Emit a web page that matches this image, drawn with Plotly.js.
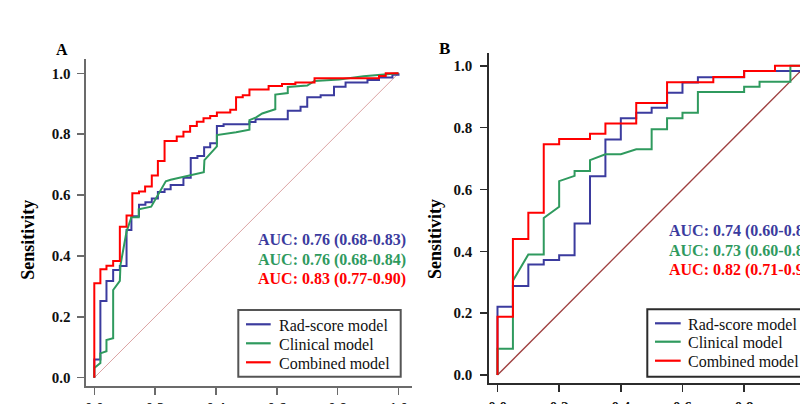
<!DOCTYPE html>
<html>
<head>
<meta charset="utf-8">
<script src="https://cdn.plot.ly/plotly-3.0.1.min.js"></script>
<style>html,body{margin:0;padding:0;background:#fff;}#chart{width:800px;height:404px;}</style>
</head>
<body>
<div id="chart"></div>
<script>
// ---------- data ----------
const diagX = [0, 1];
const diagY = [0, 1];

// Panel A (training)
const aRadX = [0,0,0.02,0.02,0.04,0.04,0.062,0.062,0.084,0.084,0.106,0.106,0.122,0.122,0.147,0.147,0.168,0.168,0.189,0.189,0.209,0.209,0.231,0.231,0.251,0.251,0.293,0.293,0.317,0.317,0.339,0.339,0.361,0.361,0.381,0.381,0.403,0.403,0.425,0.425,0.51,0.51,0.53,0.53,0.636,0.636,0.678,0.678,0.70,0.70,0.744,0.744,0.788,0.788,0.826,0.826,0.898,0.898,0.936,0.936,0.98,0.98,1,1];
const aRadY = [0,0.06,0.06,0.252,0.252,0.318,0.318,0.354,0.354,0.367,0.367,0.485,0.485,0.53,0.53,0.568,0.568,0.576,0.576,0.589,0.589,0.61,0.61,0.619,0.619,0.633,0.633,0.657,0.657,0.722,0.722,0.728,0.728,0.757,0.757,0.77,0.77,0.827,0.827,0.833,0.833,0.84,0.84,0.849,0.849,0.877,0.877,0.89,0.89,0.921,0.921,0.928,0.928,0.956,0.956,0.97,0.97,0.978,0.978,0.986,0.986,0.995,0.995,1];

const aCliX = [0,0,0.02,0.02,0.04,0.04,0.062,0.062,0.084,0.086,0.106,0.122,0.146,0.146,0.187,0.235,0.251,0.36,0.362,0.403,0.403,0.466,0.51,0.51,0.532,0.552,0.595,0.595,0.636,0.636,0.70,0.724,0.805,0.885,1];
const aCliY = [0,0.032,0.048,0.08,0.087,0.124,0.13,0.288,0.318,0.37,0.48,0.527,0.527,0.553,0.562,0.645,0.65,0.675,0.715,0.76,0.797,0.806,0.815,0.846,0.855,0.868,0.882,0.93,0.935,0.955,0.96,0.975,0.98,0.99,1];

const aComX = [0,0,0.02,0.02,0.04,0.04,0.062,0.062,0.084,0.084,0.106,0.106,0.125,0.125,0.147,0.147,0.167,0.167,0.189,0.189,0.209,0.209,0.231,0.231,0.271,0.271,0.293,0.293,0.315,0.315,0.337,0.337,0.359,0.359,0.381,0.381,0.403,0.403,0.447,0.447,0.466,0.466,0.488,0.488,0.51,0.51,0.573,0.573,0.617,0.617,0.661,0.661,0.724,0.724,0.936,0.936,0.958,0.958,1];
const aComY = [0,0.31,0.31,0.356,0.356,0.368,0.368,0.383,0.383,0.496,0.496,0.533,0.533,0.606,0.606,0.612,0.612,0.628,0.628,0.664,0.664,0.712,0.712,0.778,0.778,0.792,0.792,0.808,0.808,0.827,0.827,0.841,0.841,0.852,0.852,0.86,0.86,0.871,0.871,0.88,0.88,0.921,0.921,0.928,0.928,0.947,0.947,0.958,0.958,0.965,0.965,0.97,0.97,0.984,0.984,0.991,0.991,1,1];

// Panel B (validation)
const bRadX = [0,0,0.05,0.05,0.1,0.1,0.15,0.15,0.2,0.2,0.25,0.25,0.3,0.3,0.35,0.35,0.4,0.4,0.45,0.45,0.5,0.5,0.55,0.55,0.6,0.6,0.65,0.65,0.8,0.8,1,1];
const bRadY = [0,0.221,0.221,0.288,0.288,0.357,0.357,0.372,0.372,0.387,0.387,0.49,0.49,0.643,0.643,0.762,0.762,0.83,0.83,0.848,0.848,0.864,0.864,0.913,0.913,0.946,0.946,0.963,0.963,0.983,0.983,1];

const bCliX = [0,0,0.05,0.05,0.1,0.15,0.15,0.2,0.2,0.25,0.25,0.3,0.3,0.35,0.4,0.45,0.5,0.5,0.55,0.55,0.6,0.6,0.65,0.65,0.8,0.8,0.85,0.85,0.95,0.95,1];
const bCliY = [0,0.085,0.085,0.305,0.39,0.39,0.508,0.544,0.627,0.644,0.66,0.66,0.695,0.714,0.714,0.73,0.73,0.795,0.795,0.83,0.83,0.848,0.848,0.915,0.915,0.932,0.932,0.948,0.948,1,1];

const bComX = [0,0,0.05,0.05,0.1,0.1,0.15,0.15,0.2,0.2,0.3,0.3,0.35,0.35,0.45,0.45,0.55,0.55,0.7,0.7,0.8,0.8,0.9,0.9,1];
const bComY = [0,0.188,0.188,0.44,0.44,0.525,0.525,0.746,0.746,0.763,0.763,0.78,0.78,0.813,0.813,0.88,0.88,0.947,0.947,0.964,0.964,0.983,0.983,1,1];

const seriesNames = ['Rad-score model', 'Clinical model', 'Combined model'];
const aucA = ['AUC: 0.76 (0.68-0.83)', 'AUC: 0.76 (0.68-0.84)', 'AUC: 0.83 (0.77-0.90)'];
const aucB = ['AUC: 0.74 (0.60-0.87)', 'AUC: 0.73 (0.60-0.86)', 'AUC: 0.82 (0.71-0.93)'];
const tickVals = [0, 0.2, 0.4, 0.6, 0.8, 1.0];
const tickText = ['0.0', '0.2', '0.4', '0.6', '0.8', '1.0'];
const panelLabels = ['A', 'B'];
const yTitle = 'Sensitivity';

// ---------- styling ----------
const FONT = 'Liberation Serif, Times New Roman, serif';
const COLORS = ['#3b3b9e', '#2f9a5e', '#ff0000'];
const W = 800, H = 404;
const px = v => v / W;
const py = v => 1 - v / H;

function line(x, y, color, xa, ya, width) {
  return {x: x, y: y, type: 'scatter', mode: 'lines', xaxis: xa, yaxis: ya,
          line: {color: color, width: width || 2, shape: 'linear'},
          hoverinfo: 'skip', showlegend: false};
}

const data = [
  line(diagX, diagY, '#dba3a3', 'x', 'y', 1),
  line(aRadX, aRadY, COLORS[0], 'x', 'y'),
  line(aCliX, aCliY, COLORS[1], 'x', 'y'),
  line(aComX, aComY, COLORS[2], 'x', 'y'),
  line(diagX, diagY, '#9e3f3f', 'x2', 'y2', 1.3),
  line(bRadX, bRadY, COLORS[0], 'x2', 'y2'),
  line(bCliX, bCliY, COLORS[1], 'x2', 'y2'),
  line(bComX, bComY, COLORS[2], 'x2', 'y2')
];

function axis(opts) {
  return Object.assign({
    showline: true, linewidth: 2, ticks: 'outside', ticklen: 7, tickwidth: 1.5,
    tickvals: tickVals, ticktext: tickText, showgrid: false, zeroline: false,
    tickfont: {family: FONT, size: 15, color: '#111', weight: 'bold'},
    fixedrange: true
  }, opts);
}

const colA = '#6b6b6b', colB = '#2b2b2b';

const layout = {
  width: W, height: H, autosize: false,
  margin: {l: 0, r: 0, t: 0, b: 0, pad: 0},
  paper_bgcolor: '#fff', plot_bgcolor: 'rgba(0,0,0,0)',
  showlegend: false,
  xaxis: axis({domain: [px(85.5), px(411.7)], range: [-0.02893, 1.04339], anchor: 'y',
               linecolor: colA, tickcolor: colA, ticklabelstandoff: 0}),
  yaxis: axis({domain: [py(385.7), py(59.3)], range: [-0.02628, 1.04599], anchor: 'x',
               linecolor: colA, tickcolor: colA, ticklabelstandoff: 3}),
  xaxis2: axis({domain: [px(489.3), 1], range: [-0.0266, 0.98119], anchor: 'y2',
                linecolor: colB, tickcolor: colB, ticklabelstandoff: 2}),
  yaxis2: axis({domain: [py(383.3), py(52.7)], range: [-0.02683, 1.04235], anchor: 'x2',
                linecolor: colB, tickcolor: colB, ticklabelstandoff: 5}),
  shapes: [],
  annotations: []
};

// panel letters and y titles
layout.annotations.push({xref: 'paper', yref: 'paper', x: px(61.7), y: py(49.3), text: panelLabels[0],
  showarrow: false, xanchor: 'center', yanchor: 'middle', font: {family: FONT, size: 16, color: '#000', weight: 'bold'}});
layout.annotations.push({xref: 'paper', yref: 'paper', x: px(444.3), y: py(48.3), text: panelLabels[1],
  showarrow: false, xanchor: 'center', yanchor: 'middle', font: {family: FONT, size: 17, color: '#000', weight: 'bold'}});
layout.annotations.push({xref: 'paper', yref: 'paper', x: px(27.8), y: py(240), text: yTitle, textangle: -90,
  showarrow: false, xanchor: 'center', yanchor: 'middle', font: {family: FONT, size: 18, color: '#000', weight: 'bold'}});
layout.annotations.push({xref: 'paper', yref: 'paper', x: px(435), y: py(239), text: yTitle, textangle: -90,
  showarrow: false, xanchor: 'center', yanchor: 'middle', font: {family: FONT, size: 18, color: '#000', weight: 'bold'}});

// AUC texts
const aucAy = [238.7, 258.7, 278.3];
const aucBy = [230.3, 249.7, 269.2];
aucA.forEach((t, i) => layout.annotations.push({xref: 'paper', yref: 'paper', x: px(255.5), y: py(aucAy[i] + 1),
  text: t, showarrow: false, xanchor: 'left', yanchor: 'middle',
  font: {family: FONT, size: 16, color: COLORS[i], weight: 'bold'}}));
aucB.forEach((t, i) => layout.annotations.push({xref: 'paper', yref: 'paper', x: px(666.5), y: py(aucBy[i] + 1),
  text: t, showarrow: false, xanchor: 'left', yanchor: 'middle',
  font: {family: FONT, size: 16, color: COLORS[i], weight: 'bold'}}));

// legends (boxes, samples, labels)
function legend(box, x0, x1, tx, ys, border) {
  layout.shapes.push({type: 'rect', xref: 'paper', yref: 'paper', x0: px(box[0]), x1: px(box[1]),
    y0: py(box[3]), y1: py(box[2]), line: {color: border, width: 2}, fillcolor: 'rgba(0,0,0,0)'});
  seriesNames.forEach((n, i) => {
    layout.shapes.push({type: 'line', xref: 'paper', yref: 'paper', x0: px(x0), x1: px(x1),
      y0: py(ys[i]), y1: py(ys[i]), line: {color: COLORS[i], width: 2.2}});
    layout.annotations.push({xref: 'paper', yref: 'paper', x: px(tx), y: py(ys[i] + 1), text: n,
      showarrow: false, xanchor: 'left', yanchor: 'middle', font: {family: FONT, size: 16, color: '#111'}});
  });
}
legend([238.3, 400.7, 310, 376.7], 246, 270.7, 277, [324.3, 343.3, 362.3], '#555');
legend([647.3, 812, 309.3, 376.7], 655, 680.7, 686, [323.3, 341.7, 360.7], '#2b2b2b');

Plotly.newPlot('chart', data, layout, {displayModeBar: false, staticPlot: true});
</script>
</body>
</html>
